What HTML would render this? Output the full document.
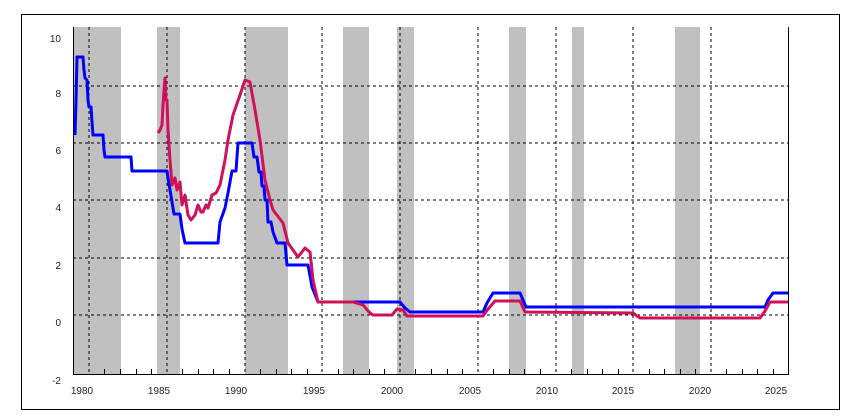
<!DOCTYPE html>
<html><head><meta charset="utf-8"><style>
html,body{margin:0;padding:0;background:#fff;width:856px;height:418px;overflow:hidden}
svg{display:block}
text{font-family:"Liberation Sans",sans-serif;font-size:10px;fill:#222}
</style></head><body>
<svg width="856" height="418" viewBox="0 0 856 418">
<rect x="21.5" y="14.5" width="818" height="395" fill="#fff" stroke="#000" stroke-width="1"/>
<g fill="#c0c0c0">
<rect x="73" y="27" width="48" height="347"/>
<rect x="157" y="27" width="23" height="347"/>
<rect x="245" y="27" width="43" height="347"/>
<rect x="343" y="27" width="26" height="347"/>
<rect x="397" y="27" width="17" height="347"/>
<rect x="509" y="27" width="17" height="347"/>
<rect x="572" y="27" width="12" height="347"/>
<rect x="675" y="27" width="25" height="347"/>
</g>
<g stroke="#000" stroke-width="1" stroke-dasharray="3,3" fill="none">
<line x1="73" y1="86" x2="788" y2="86"/>
<line x1="73" y1="143" x2="788" y2="143"/>
<line x1="73" y1="200" x2="788" y2="200"/>
<line x1="73" y1="258" x2="788" y2="258"/>
<line x1="73" y1="315" x2="788" y2="315"/>
<line x1="89" y1="27" x2="89" y2="374"/>
<line x1="167" y1="27" x2="167" y2="374"/>
<line x1="245" y1="27" x2="245" y2="374"/>
<line x1="322" y1="27" x2="322" y2="374"/>
<line x1="400" y1="27" x2="400" y2="374"/>
<line x1="478" y1="27" x2="478" y2="374"/>
<line x1="556" y1="27" x2="556" y2="374"/>
<line x1="633" y1="27" x2="633" y2="374"/>
<line x1="711" y1="27" x2="711" y2="374"/>
</g>
<g stroke="#000" stroke-width="1">
<path d="M73.5 27V374.5H788.5V27" fill="none"/>
<path d="M104.5 374v-5M120.5 374v-5M136.5 374v-5M151.5 374v-5M182.5 374v-5M198.5 374v-5M213.5 374v-5M229.5 374v-5M260.5 374v-5M276.5 374v-5M291.5 374v-5M307.5 374v-5M338.5 374v-5M353.5 374v-5M369.5 374v-5M384.5 374v-5M415.5 374v-5M431.5 374v-5M447.5 374v-5M462.5 374v-5M493.5 374v-5M509.5 374v-5M524.5 374v-5M540.5 374v-5M571.5 374v-5M587.5 374v-5M602.5 374v-5M618.5 374v-5M649.5 374v-5M664.5 374v-5M680.5 374v-5M695.5 374v-5M726.5 374v-5M742.5 374v-5M757.5 374v-5M773.5 374v-5"/>
</g>
<g text-anchor="end">
<text x="61" y="42">10</text><text x="61" y="97">8</text><text x="61" y="154">6</text>
<text x="61" y="211">4</text><text x="61" y="269">2</text><text x="61" y="326">0</text><text x="61" y="384">-2</text>
</g>
<g text-anchor="middle">
<text x="82" y="394">1980</text><text x="159" y="394">1985</text><text x="236" y="394">1990</text>
<text x="314" y="394">1995</text><text x="392" y="394">2000</text><text x="470" y="394">2005</text>
<text x="547" y="394">2010</text><text x="623" y="394">2015</text><text x="700" y="394">2020</text><text x="776" y="394">2025</text>
</g>
<polyline fill="none" stroke="#0000ff" stroke-width="3" stroke-linejoin="round" points="75,135 76,100 77,57 83,57 84,70 85,78 87,80 88,100 89,107 91,107 92,122 93,135 103,135 104,150 105,157 131,157 132,171 167,171 168,178 170,190 172,202 174,214 180,214 182,229 185,243 218,243 220,222 225,208 228,193 232,171 236,171 238,143 252,143 254,157 257,157 259,172 261,172 262,186 264,186 265,200 267,200 268,222 271,222 273,232 277,243 285,243 287,265 308,265 312,287 318,302 400,302 405,308 410,312 483,312 487,303 493,293 520,293 526,307 765,307 768,300 773,293 788,293"/>
<polyline fill="none" stroke="#d0105a" stroke-width="3" stroke-linejoin="round" points="158,133 160,130 162,125 163,105 165,78 166,100 167,100 168,130 170,160 172,185 175,178 177,190 180,182 182,205 185,195 188,215 191,220 195,215 198,205 201,212 203,212 206,205 208,208 212,195 216,193 220,185 225,160 228,140 233,115 240,95 245,80 250,82 255,110 260,140 265,180 270,200 273,210 283,223 288,243 298,257 305,248 310,252 313,280 318,302 353,302 363,305 370,313 373,315 392,315 397,309 403,310 407,316 483,316 488,309 495,301 520,301 525,312 633,313 640,318 760,318 765,311 770,302 788,302"/>
</svg>
</body></html>
